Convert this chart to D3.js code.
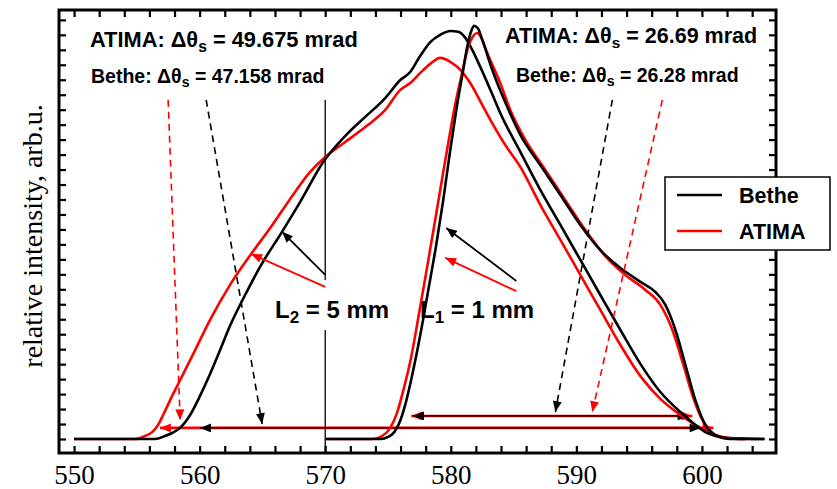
<!DOCTYPE html>
<html>
<head>
<meta charset="utf-8">
<script src="https://cdn.jsdelivr.net/npm/d3@7"></script>
<style>
  body { margin: 0; background: #fff; }
  svg { display: block; }
  .lbl { font-family: "Liberation Sans", Arial, sans-serif; font-weight: bold; }
</style>
</head>
<body>
<svg id="chart" width="837" height="489"></svg>
<script>
// energy (x) and relative intensity (y, arb. counts)
var betheL2 = [[550.0,0],[556.45,0],[557.25,10],[557.81,20],[558.44,37],[559.24,80],[560.03,144],[560.83,217],
  [561.63,297],[562.42,378],[563.62,481],[564.81,575],[566.56,692],[568.01,792],[569.84,925],[571.59,1012],[573.19,1076],[574.78,1139],
  [575.98,1199],[576.77,1226],[577.57,1280],[578.37,1326],[579.16,1350],[579.96,1363],[580.6,1360],[581.16,1340],
  [581.71,1300],[582.35,1243],[583.39,1143],[583.94,1089],[585.54,959],[587.13,832],[588.73,715],[590.32,598],
  [591.91,481],[593.51,364],[595.1,251],[596.69,157],[598.29,90],[599.48,47],[600.28,23],[601.08,10],[602.27,3],[604.98,0]];
var atimaL2 = [[550.0,0],[554.86,0],[555.66,10],[556.22,23],[556.69,47],[557.17,87],[557.65,130],[558.45,197],
  [559.64,297],[560.83,398],[562.42,515],[564.1,618],[565.62,705],[567.21,802],[568.8,892],[570.0,942],[571.59,992],
  [573.19,1042],[574.78,1099],[575.98,1166],[576.77,1189],[577.57,1223],[578.37,1253],[579.16,1273],[579.96,1260],
  [580.76,1233],[581.55,1189],[582.59,1109],[583.15,1066],[584.34,982],[585.54,909],[587.13,782],[588.73,665],
  [590.32,548],[591.91,431],[593.51,314],[595.1,210],[596.69,134],[598.29,80],[599.88,37],[600.84,17],[602.11,3],[603.47,0]];
var betheL1 = [[570.0,0],[574.38,0],[575.02,7],[575.5,23],[575.9,53],[576.37,114],[576.93,214],[577.57,347],
  [578.21,498],[578.84,648],[579.4,798],[579.96,966],[580.44,1099],[580.92,1216],[581.31,1310],[581.63,1363],
  [581.87,1380],[582.19,1370],[582.51,1333],[583.39,1223],[584.5,1109],[585.54,1016],[587.13,915],[588.73,815],
  [590.32,715],[591.91,631],[593.51,571],[595.1,525],[596.29,491],[597.09,448],[597.89,364],[598.69,247],
  [599.48,130],[600.28,47],[601.08,13],[602.27,0],[604.98,0]];
var atimaL1 = [[570.0,0],[573.75,0],[574.54,10],[575.18,37],[575.74,90],[576.29,174],[576.85,274],[577.41,404],
  [578.05,558],[578.69,715],[579.24,852],[579.8,989],[580.36,1119],[580.92,1226],[581.39,1310],[581.79,1346],
  [582.11,1356],[582.43,1340],[582.9,1290],[583.94,1189],[584.74,1099],[585.94,999],[587.53,899],[589.12,798],
  [590.72,698],[592.31,611],[593.9,548],[595.5,498],[596.69,448],[597.65,364],[598.53,247],[599.32,137],
  [600.12,57],[600.84,20],[601.87,3],[603.47,0]];

var xLabels = [550, 560, 570, 580, 590, 600];

// annotation arrows, [x1, y1, x2, y2] in data units
var widthArrows = [
  {c: "red",   w: 2.6, p: [556.85, 37, 600.92, 37]},
  {c: "black", w: 1.3, p: [560.04, 37, 599.88, 37]},
  {c: "red",   w: 2.6, p: [576.85, 77, 599.24, 77]},
  {c: "black", w: 1.3, p: [577.01, 77, 598.92, 77]}
];
var dashArrows = [
  {c: "red",   p: [557.49, 1133, 558.45, 63]},
  {c: "black", p: [560.52, 1133, 564.98, 50]},
  {c: "black", p: [592.87, 1133, 588.33, 90]},
  {c: "red",   p: [596.85, 1133, 591.27, 90]}
];
var pointArrows = [
  {c: "black", p: [570.0, 548, 566.57, 692]},
  {c: "red",   p: [570.0, 508, 564.1, 618]},
  {c: "black", p: [585.22, 528, 579.64, 705]},
  {c: "red",   p: [585.22, 494, 579.56, 605]}
];

var svg = d3.select("#chart");
var mLeft = 59, mRight = 776, mTop = 10, mBottom = 453;

var x = d3.scaleLinear().domain([548.8, 605.9]).range([mLeft, mRight]);
var y = d3.scaleLinear().domain([-46.8, 1433]).range([mBottom, mTop]);

// arrow heads
var defs = svg.append("defs");
["black", "red"].forEach(function(c) {
  defs.append("marker")
    .attr("id", "head-" + c)
    .attr("viewBox", "0 0 12 10")
    .attr("refX", 12).attr("refY", 5)
    .attr("markerWidth", 13).attr("markerHeight", 9)
    .attr("markerUnits", "userSpaceOnUse")
    .attr("orient", "auto-start-reverse")
    .append("path")
    .attr("d", "M0,0L12,5L0,10z")
    .attr("fill", c);
});

// axes: ticks all point inwards, no tick labels except bottom majors
var xTicks = d3.range(550, 606, 2);
var yTicks = d3.range(0, 1433, 50);

var gx = svg.append("g")
  .attr("transform", "translate(0," + mBottom + ")")
  .call(d3.axisBottom(x).tickValues(xTicks).tickSize(-7).tickPadding(12)
    .tickFormat(function(d) { return xLabels.indexOf(d) >= 0 ? d : ""; }));
gx.selectAll("text")
  .attr("font-family", "'Liberation Serif', 'Times New Roman', serif")
  .attr("font-size", 27)
  .attr("fill", "#000");

svg.append("g")
  .attr("transform", "translate(0," + mTop + ")")
  .call(d3.axisTop(x).tickValues(xTicks).tickSize(-7).tickFormat(""));
svg.append("g")
  .attr("transform", "translate(" + mLeft + ",0)")
  .call(d3.axisLeft(y).tickValues(yTicks).tickSize(-7).tickFormat(""));
svg.append("g")
  .attr("transform", "translate(" + mRight + ",0)")
  .call(d3.axisRight(y).tickValues(yTicks).tickSize(-7).tickFormat(""));

svg.selectAll(".domain").remove();
svg.selectAll(".tick line").attr("stroke", "#000").attr("stroke-width", 2.2);

svg.append("rect")
  .attr("x", mLeft).attr("y", mTop)
  .attr("width", mRight - mLeft).attr("height", mBottom - mTop)
  .attr("fill", "none").attr("stroke", "#000").attr("stroke-width", 3);

// y label
svg.append("text")
  .attr("transform", "translate(42,236) rotate(-90)")
  .attr("text-anchor", "middle")
  .attr("font-family", "'Liberation Serif', 'Times New Roman', serif")
  .attr("font-size", 28)
  .text("relative intensity, arb.u.");

// vertical marker at 570
svg.append("line")
  .attr("x1", x(570)).attr("x2", x(570))
  .attr("y1", y(1133)).attr("y2", y(531))
  .attr("stroke", "#000").attr("stroke-width", 1.3);
svg.append("line")
  .attr("x1", x(570)).attr("x2", x(570))
  .attr("y1", y(364)).attr("y2", mBottom)
  .attr("stroke", "#000").attr("stroke-width", 1.3);

// width arrows (double headed)
svg.selectAll(".warrow").data(widthArrows).enter().append("line")
  .attr("class", "warrow")
  .attr("x1", function(d) { return x(d.p[0]); })
  .attr("y1", function(d) { return y(d.p[1]); })
  .attr("x2", function(d) { return x(d.p[2]); })
  .attr("y2", function(d) { return y(d.p[3]); })
  .attr("stroke", function(d) { return d.c; })
  .attr("stroke-width", function(d) { return d.w; })
  .attr("marker-start", function(d) { return "url(#head-" + d.c + ")"; })
  .attr("marker-end", function(d) { return "url(#head-" + d.c + ")"; });

// spectra
var line = d3.line()
  .x(function(d) { return x(d[0]); })
  .y(function(d) { return y(d[1]); })
  .curve(d3.curveMonotoneX);

var series = [
  {data: atimaL2, c: "#ff0000"},
  {data: betheL2, c: "#000"},
  {data: atimaL1, c: "#ff0000"},
  {data: betheL1, c: "#000"}
];
svg.selectAll(".spec").data(series).enter().append("path")
  .attr("class", "spec")
  .attr("d", function(d) { return line(d.data); })
  .attr("fill", "none")
  .attr("stroke", function(d) { return d.c; })
  .attr("stroke-width", 2.6)
  .attr("stroke-linejoin", "round");

// dashed and pointer arrows
svg.selectAll(".darrow").data(dashArrows).enter().append("line")
  .attr("class", "darrow")
  .attr("x1", function(d) { return x(d.p[0]); })
  .attr("y1", function(d) { return y(d.p[1]); })
  .attr("x2", function(d) { return x(d.p[2]); })
  .attr("y2", function(d) { return y(d.p[3]); })
  .attr("stroke", function(d) { return d.c; })
  .attr("stroke-width", 1.6)
  .attr("stroke-dasharray", "7,5")
  .attr("marker-end", function(d) { return "url(#head-" + d.c + ")"; });

svg.selectAll(".parrow").data(pointArrows).enter().append("line")
  .attr("class", "parrow")
  .attr("x1", function(d) { return x(d.p[0]); })
  .attr("y1", function(d) { return y(d.p[1]); })
  .attr("x2", function(d) { return x(d.p[2]); })
  .attr("y2", function(d) { return y(d.p[3]); })
  .attr("stroke", function(d) { return d.c; })
  .attr("stroke-width", 1.8)
  .attr("marker-end", function(d) { return "url(#head-" + d.c + ")"; });

// texts
function deltaText(px, py, size, head, value) {
  var t = svg.append("text").attr("class", "lbl")
    .attr("x", px).attr("y", py).attr("font-size", size);
  t.append("tspan").text(head + " \u0394\u03b8");
  t.append("tspan").attr("dy", size * 0.22).attr("font-size", size * 0.72).text("s");
  t.append("tspan").attr("dy", -size * 0.22).text(" = " + value + " mrad");
}
deltaText(90, 47, 21.8, "ATIMA:", "49.675");
deltaText(91, 83, 19.5, "Bethe:", "47.158");
deltaText(505, 43, 21.5, "ATIMA:", "26.69");
deltaText(516, 82, 19.5, "Bethe:", "26.28");

function lengthText(px, py, idx, value) {
  var t = svg.append("text").attr("class", "lbl")
    .attr("x", px).attr("y", py).attr("font-size", 24);
  t.append("tspan").text("L");
  t.append("tspan").attr("dy", 5).attr("font-size", 17).text(idx);
  t.append("tspan").attr("dy", -5).text(" = " + value + " mm");
}
lengthText(275, 318, "2", "5");
lengthText(420, 318, "1", "1");

// legend
var lg = svg.append("g");
lg.append("rect").attr("x", 665).attr("y", 177).attr("width", 165).attr("height", 73)
  .attr("fill", "#fff").attr("stroke", "#000").attr("stroke-width", 1.5);
[{name: "Bethe", c: "#000", ly: 195}, {name: "ATIMA", c: "#ff0000", ly: 231}].forEach(function(d) {
  lg.append("line").attr("x1", 677).attr("x2", 722).attr("y1", d.ly).attr("y2", d.ly)
    .attr("stroke", d.c).attr("stroke-width", 2.6);
  lg.append("text").attr("class", "lbl").attr("x", 739).attr("y", d.ly + 8)
    .attr("font-size", 21.5).text(d.name);
});
</script>
</body>
</html>
